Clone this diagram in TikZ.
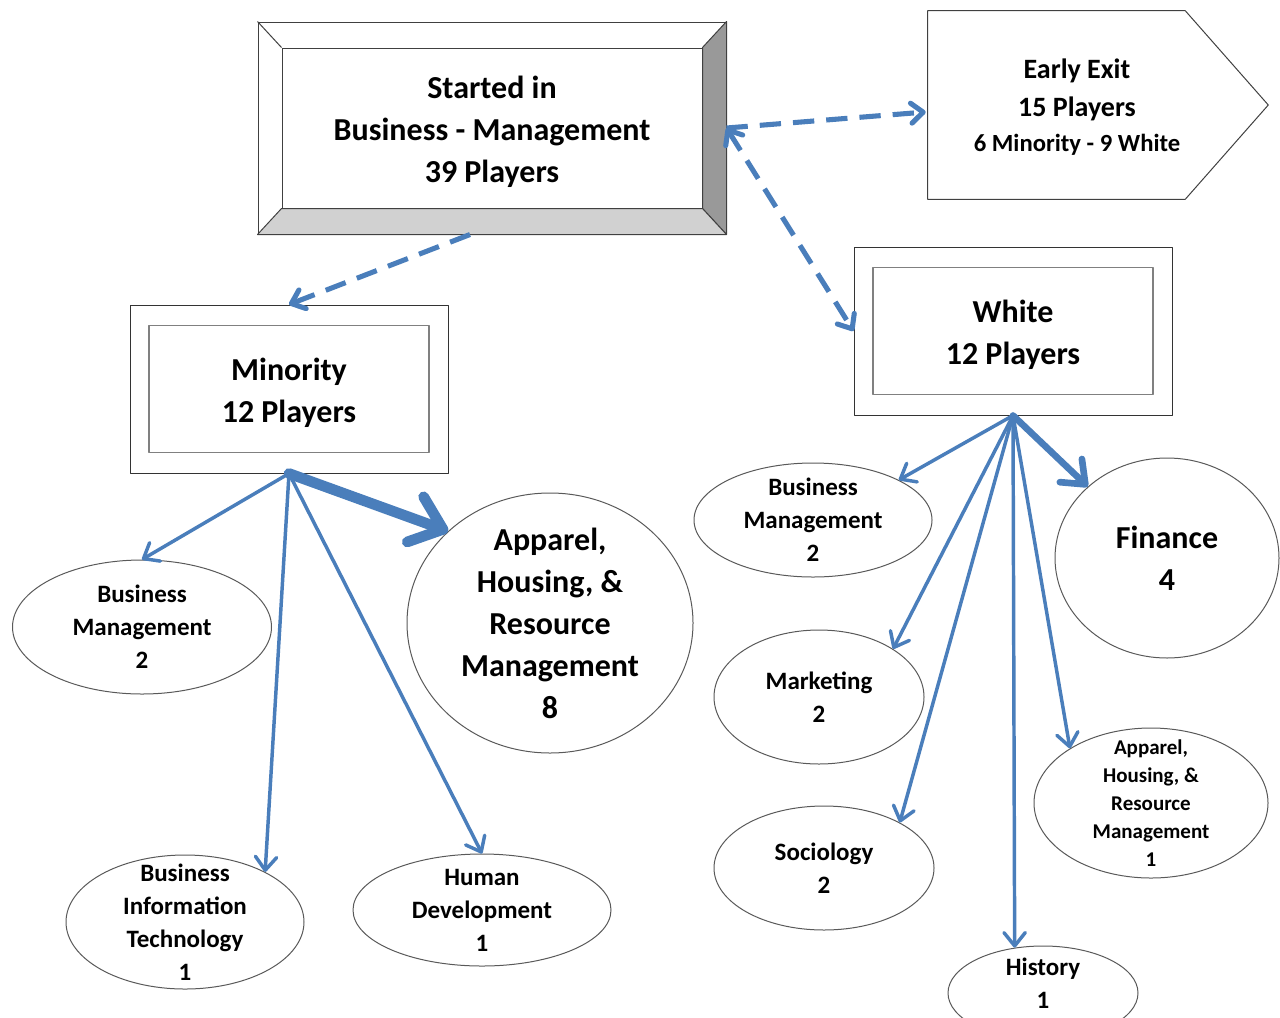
\documentclass[tikz,border=0pt]{standalone}
\usepackage{fontspec}
\setmainfont{Carlito}
\usetikzlibrary{arrows.meta,positioning,calc,shapes.geometric}
\definecolor{flowblue}{HTML}{4A7EBB}

\begin{document}
\begin{tikzpicture}[x=0.75pt,y=-0.75pt,line join=round,
  bigtxt/.style={font=\fontsize{24}{31.5}\selectfont\bfseries,align=center},
  smalltxt/.style={font=\fontsize{18.75}{24.75}\selectfont\bfseries,align=center},
  tinytxt/.style={font=\fontsize{15.75}{21}\selectfont\bfseries,align=center},
  boxtxt/.style={label={[bigtxt,yshift=-3pt]center:#1}},
  oval/.style={ellipse,draw=black!65,line width=0.75pt,inner sep=-30pt},
  outbox/.style={draw=black!80,line width=0.75pt,minimum width=238.5pt,minimum height=126pt},
  inbox/.style={draw=black!50,line width=1pt,minimum width=210pt,minimum height=95.25pt},
  flow/.style={flowblue,line width=2.6pt,line cap=round,-{Straight Barb[length=10pt,width=16pt,round]}},
  flowmid/.style={flow,line width=5pt,-{Straight Barb[length=15pt,width=24pt,round]}},
  flowbig/.style={flow,line width=8pt,-{Straight Barb[length=22pt,width=36pt,round]}},
  dashflow/.style={flowblue,line width=3.8pt,dash pattern=on 16pt off 9pt,-{Straight Barb[length=9pt,width=15pt,round]}}]
 \useasboundingbox (0,0) rectangle (1280,1017);
 \node[draw=black!75,line width=0.75pt,minimum width=351pt,minimum height=159pt] (start) at (492,128) {};
 \node[draw=black!75,line width=0.75pt,minimum width=315pt,minimum height=120pt,boxtxt={Started in\\Business - Management\\39 Players}] (startin) at (492,128) {};
 \filldraw[fill=black!40,draw=black!75,line width=0.75pt] (start.north east) -- (start.south east) -- (startin.south east) -- (startin.north east) -- cycle;
 \filldraw[fill=black!18,draw=black!75,line width=0.75pt] (start.south west) -- (start.south east) -- (startin.south east) -- (startin.south west) -- cycle;
 \draw[black!75,line width=0.75pt] (start.north west) -- (startin.north west);
 \node[minimum width=223.5pt,minimum height=141pt,font=\fontsize{21}{28.5}\selectfont\bfseries,align=center] (exit) at (1077,107) {Early Exit\\15 Players\\[-2pt]{\fontsize{18.5}{24}\selectfont 6 Minority - 9 White}};
 \draw[black!75,line width=0.75pt] ($(exit.north west)+(0,-2)$) -- ($(exit.north east)+(-41,-2)$) -- ($(exit.east)+(42,-2)$) -- ($(exit.south east)+(-41,-2)$) -- ($(exit.south west)+(0,-2)$) -- cycle;
 \node[outbox] (minority) at (289,389) {}; \node[inbox,boxtxt={Minority\\12 Players}] (minorityin) at (289,389) {};
 \node[outbox] (white) at (1013,331) {}; \node[inbox,boxtxt={White\\12 Players}] (whitein) at (1013,331) {};
 \node[oval,smalltxt,minimum width=194.25pt,minimum height=100.5pt] (mbm) at (142,627) {Business\\Management\\2};
 \node[oval,bigtxt,minimum width=214.5pt,minimum height=195pt] (mahrm) at (550,623) {Apparel,\\Housing, \&\\Resource\\Management\\8};
 \node[oval,smalltxt,minimum width=178.5pt,minimum height=100.5pt] (mbit) at (185,922) {Business\\Information\\Technology\\1};
 \node[oval,smalltxt,minimum width=193.5pt,minimum height=84pt] (mhd) at (482,910) {Human\\Development\\1};
 \node[oval,smalltxt,minimum width=178.5pt,minimum height=85.5pt] (wbm) at (813,520) {Business\\Management\\2};
 \node[oval,bigtxt,minimum width=168pt,minimum height=150pt] (wfin) at (1167,558) {Finance\\4};
 \node[oval,smalltxt,minimum width=157.5pt,minimum height=100.5pt] (wmkt) at (819,697) {Marketing\\2};
 \node[oval,tinytxt,minimum width=175.5pt,minimum height=112.5pt] (wahrm) at (1151,803) {Apparel,\\Housing, \&\\Resource\\Management\\1};
 \node[oval,smalltxt,minimum width=165pt,minimum height=93pt] (wsoc) at (824,868) {Sociology\\2};
 \node[oval,minimum width=142.5pt,minimum height=70.5pt,label={[smalltxt,yshift=7.5pt]center:History\\1}] (whist) at (1043,993) {};
 \draw[dashflow] ($(start.south)+(-22,0)$) -- (minority.north);
 \draw[dashflow] (start.east) -- ($(exit.west)+(-2,5)$);
 \draw[dashflow,{Straight Barb[length=9pt,width=15pt,round]}-{Straight Barb[length=9pt,width=15pt,round]}] (start.east) -- (white.west);
 \foreach \t in {mbm.north,mbit.32,mhd.north} \draw[flow] (minority.south) -- (\t);
 \draw[flowbig] (minority.south) -- (mahrm.138);
 \foreach \t in {wbm.25,wmkt.33,wsoc.31,whist.122,wahrm.146} \draw[flow] (white.south) -- (\t);
 \draw[flowmid] (white.south) -- (wfin.138);
\end{tikzpicture}
\end{document}
